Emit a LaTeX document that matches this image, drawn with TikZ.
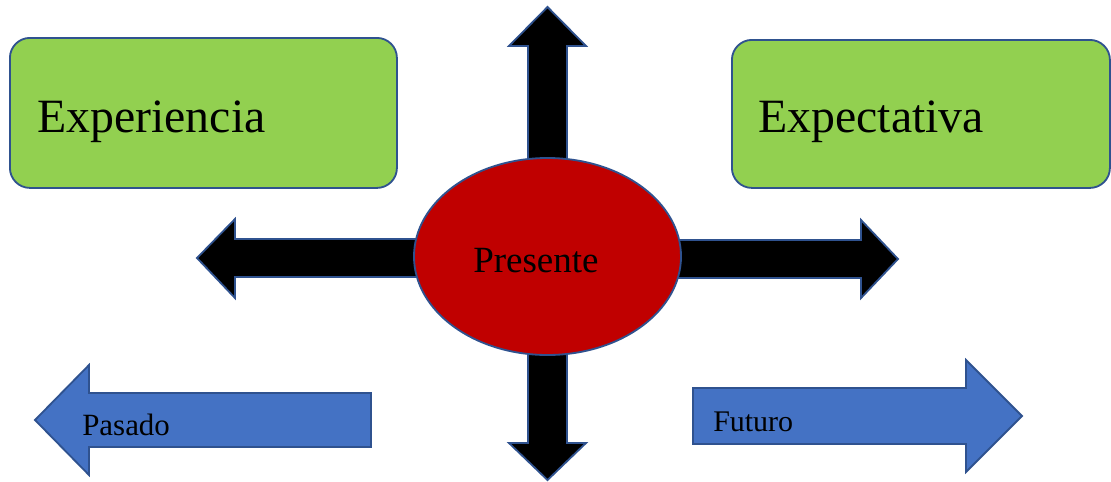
\documentclass[tikz,border=0pt]{standalone}
\usepackage{fontspec}
\setmainfont{Liberation Serif}
\usetikzlibrary{shapes.geometric}
\definecolor{verde}{HTML}{92D050}
\definecolor{borde}{HTML}{2F528F}
\definecolor{rojo}{HTML}{C00000}
\definecolor{azul}{HTML}{4472C4}
\def\pxu{0.025cm}
\tikzset{
    caja/.style={draw=borde, fill=verde, line width=1.3pt, rounded corners=20*\pxu, anchor=north west},
    negra/.style={draw=borde, fill=black, line width=1.3pt},
    azulf/.style={draw=borde, fill=azul, line width=1.3pt},
    texto/.style={anchor=base west, inner sep=0pt},
    grande/.style={texto, font=\fontsize{34}{40}\selectfont},
}

\begin{document}
\begin{tikzpicture}[x=\pxu, y=-\pxu]
    \useasboundingbox (0,0) rectangle (1111,481);
    % cajas verdes
    \node[caja, minimum width=387*\pxu, minimum height=150*\pxu] (cexp) at (9,37) {};
    \node[caja, minimum width=378*\pxu, minimum height=148*\pxu] (cexpt) at (731,39) {};
    \node[grande] (exper) at (37,132) {Experiencia};
    \node[grande] (expec) at (758,132) {Expectativa};
    % flechas negras
    \draw[negra] (528,256) -- (528,46) -- (509,46) -- (547.5,7) -- (586,46) -- (567,46) -- (567,256) -- cycle;
    \draw[negra] (528,256) -- (528,443) -- (509,443) -- (547.5,480) -- (586,443) -- (567,443) -- (567,256) -- cycle;
    \draw[negra] (547,239) -- (235,239) -- (235,219) -- (197,258) -- (235,298) -- (235,277) -- (547,277) -- cycle;
    \draw[negra] (547,240) -- (861,240) -- (861,220) -- (898,259) -- (861,298) -- (861,278) -- (547,278) -- cycle;
    % presente
    \node[ellipse, draw=borde, fill=rojo, line width=1.3pt, minimum width=267*\pxu, minimum height=197*\pxu] (pres) at (547.5,256.5) {};
    \node[texto, font=\fontsize{26.3}{30}\selectfont] (prest) at (473,272) {Presente};
    % pasado y futuro
    \draw[azulf] (371,393) -- (89,393) -- (89,365) -- (35,420) -- (89,475) -- (89,447) -- (371,447) -- cycle;
    \draw[azulf] (693,388) -- (966,388) -- (966,360) -- (1022,416) -- (966,472) -- (966,444) -- (693,444) -- cycle;
    \node[texto, font=\fontsize{22}{26}\selectfont] (pas) at (82,435) {Pasado};
    \node[texto, font=\fontsize{21.3}{25}\selectfont] (fut) at (713,431) {Futuro};
\end{tikzpicture}
\end{document}
